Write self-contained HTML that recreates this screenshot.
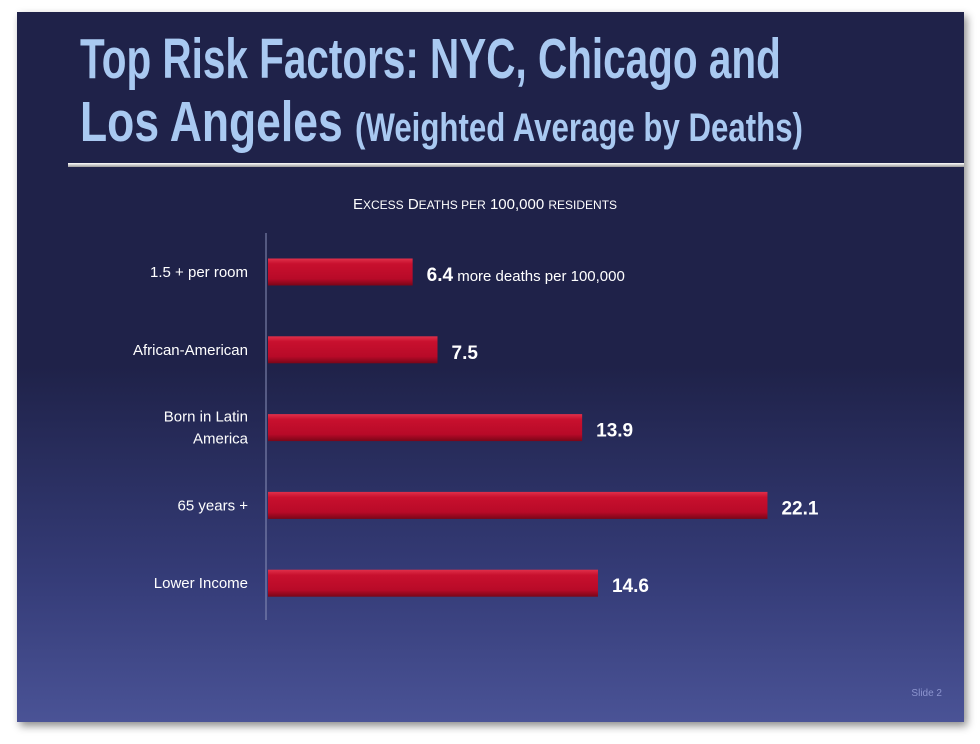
<!DOCTYPE html>
<html><head><meta charset="utf-8"><style>
html,body{margin:0;padding:0;background:#fff;width:980px;height:744px;overflow:hidden;font-family:"Liberation Sans",sans-serif}
#slide{position:absolute;left:17px;top:12px;width:947px;height:710px;background:linear-gradient(to bottom,#1f2249 0%,#1f2249 50%,#353c78 80%,#4a5396 100%);box-shadow:3px 4px 8px rgba(0,0,0,0.45)}
.title{position:absolute;left:63px;color:#a9c9f1;font-family:"Liberation Sans Narrow","Liberation Sans",sans-serif;font-weight:bold;white-space:nowrap;transform-origin:0 0}
#rule{position:absolute;left:51px;top:151px;width:896px;height:4px;background:linear-gradient(to bottom,#ffffff,#9a9a9a)}
</style></head><body>
<div id="slide">
<div class="title" style="top:14px;font-size:57px;transform:scaleX(0.71)">Top Risk Factors: NYC, Chicago and</div>
<div class="title" style="top:77px;font-size:57px;transform:scaleX(0.78)">Los Angeles <span style="font-size:40px">(Weighted Average by Deaths)</span></div>
<div id="rule"></div>
<div style="position:absolute;left:18px;top:676px;width:907px;text-align:right;color:#8d95cf;font-size:10px">Slide 2</div>
</div>
<svg id="chart" width="980" height="744" style="position:absolute;left:0;top:0">
<defs><linearGradient id="bg" x1="0" y1="0" x2="0" y2="1">
<stop offset="0" stop-color="#e0304a"/><stop offset="0.2" stop-color="#c8102e"/><stop offset="0.75" stop-color="#b80a28"/><stop offset="1" stop-color="#7a0618"/></linearGradient></defs>
</svg>
<script>
const categories=["1.5 + per room","African-American","Born in Latin America","65 years +","Lower Income"];
const values=[6.4,7.5,13.9,22.1,14.6];
const valueLabels=["6.4","7.5","13.9","22.1","14.6"];
const svg=document.getElementById('chart');
const NS='http://www.w3.org/2000/svg';
const x0=268,scale=22.6,yTop=272,step=77.8,bh=27;
function xs(v){return x0+v*scale;}
function yc(i){return yTop+i*step;}
function mk(t,a){const e=document.createElementNS(NS,t);for(const k in a)e.setAttribute(k,a[k]);svg.appendChild(e);return e;}
const st=mk('text',{x:485,y:209,'text-anchor':'middle',fill:'#fff','font-size':'15'});


st.innerHTML='E<tspan font-size="12">XCESS</tspan> D<tspan font-size="12">EATHS PER</tspan> 100,000 <tspan font-size="12">RESIDENTS</tspan>';
const ax=mk('line',{x1:266,y1:233,x2:266,y2:620,stroke:'#8a90b8','stroke-width':1});


categories.forEach((c,i)=>{
  const y=yc(i);
  const r=mk('rect',{x:x0,y:y-bh/2,width:xs(values[i])-x0,height:bh,fill:'url(#bg)'});
  
  
  const lines=c==="Born in Latin America"?["Born in Latin","America"]:[c];
  lines.forEach((l,j)=>{
    const t=mk('text',{x:248,y:y+5+(j-(lines.length-1)/2)*22,'text-anchor':'end',fill:'#fff','font-size':'15'});
    t.textContent=l;
    
    
  });
  const v=mk('text',{x:xs(values[i])+14,y:y+9,fill:'#fff','font-size':'19','font-weight':'bold'});
  v.textContent=valueLabels[i];
  
  
  if(i===0){const s=document.createElementNS(NS,'tspan');s.setAttribute('font-size','15');s.setAttribute('font-weight','normal');s.textContent=' more deaths per 100,000';v.appendChild(s);}
});
</script>
</body></html>
